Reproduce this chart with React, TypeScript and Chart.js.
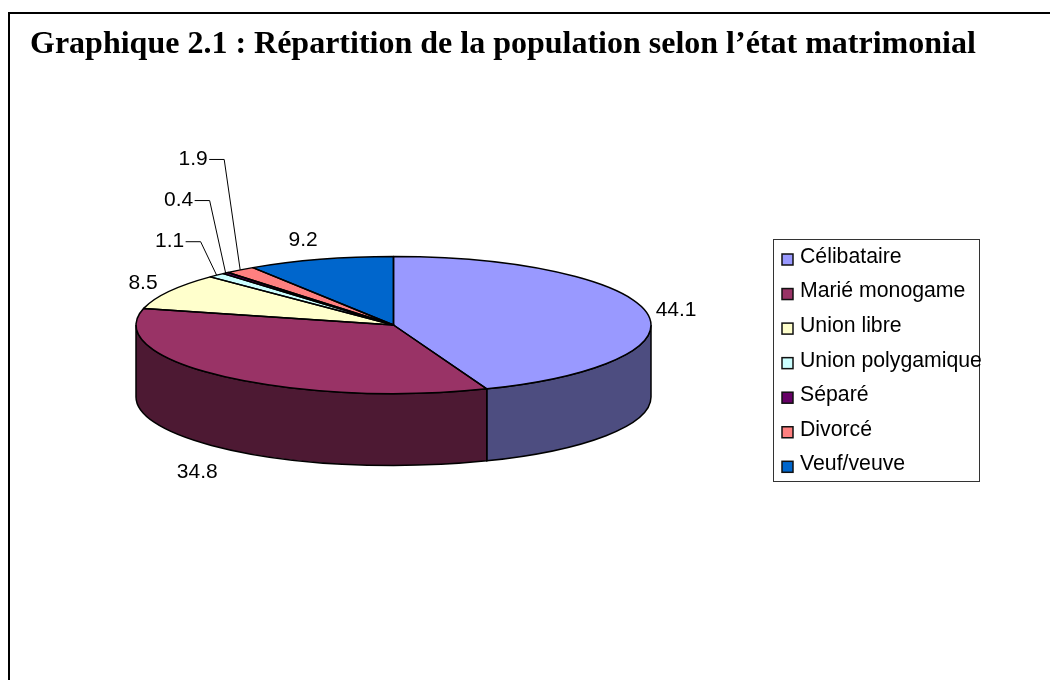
import React, { useEffect, useRef } from "react";
import { Chart, registerables } from "chart.js";

Chart.register(...registerables);

const chartTitle = "Graphique 2.1 : Répartition de la population selon l’état matrimonial";
const categories = ["Célibataire", "Marié monogame", "Union libre", "Union polygamique", "Séparé", "Divorcé", "Veuf/veuve"];
const shares = [44.1, 34.8, 8.5, 1.1, 0.4, 1.9, 9.2];
const topColors = ["#9999FF", "#993366", "#FFFFCC", "#CCFFFF", "#660066", "#FF8080", "#0066CC"];
const sideColors = ["#4D4D80", "#4D1933", "#808066", "#668080", "#330033", "#804040", "#003366"];
// label-centre offset from each slice's rim mid-point
const labelDx = [29.5, -26, -26, -47, -47, -47, -17];
const labelDy = [-2, 96, -8.5, -34, -73, -111, -19];
const leaderLimit = 2;

const tilt = 68.5 / 257.5;
const depth = 72;
const labelFont = '21px "Liberation Sans", Arial, sans-serif';
const legendFont = '21.25px "Liberation Sans", Arial, sans-serif';

const pie3d = {
  id: "pie3d",
  beforeDatasetsDraw(chart: any) {
    const ctx = chart.ctx;
    const arcs = chart.getDatasetMeta(0).data;
    const { x: cx, y: cy, outerRadius: r } = arcs[0];
    const ry = r * tilt;
    arcs.forEach((arc: any, i: number) => {
      const a = Math.max(arc.startAngle, 0);
      const b = Math.min(arc.endAngle, Math.PI);
      if (b <= a) return;
      ctx.save();
      ctx.beginPath();
      ctx.ellipse(cx, cy, r, ry, 0, a, b);
      ctx.ellipse(cx, cy + depth, r, ry, 0, b, a, true);
      ctx.closePath();
      ctx.fillStyle = sideColors[i];
      ctx.fill();
      ctx.lineWidth = 1.5;
      ctx.strokeStyle = "#000";
      ctx.stroke();
      ctx.restore();
    });
    ctx.save();
    ctx.translate(cx, cy);
    ctx.scale(1, tilt);
    ctx.translate(-cx, -cy);
  },
  afterDatasetsDraw(chart: any) {
    const ctx = chart.ctx;
    ctx.restore();
    const arcs = chart.getDatasetMeta(0).data;
    const { x: cx, y: cy, outerRadius: r } = arcs[0];
    const ry = r * tilt;
    ctx.save();
    ctx.strokeStyle = "#000";
    ctx.lineWidth = 1.5;
    ctx.lineJoin = "round";
    arcs.forEach((arc: any) => {
      ctx.beginPath();
      ctx.moveTo(cx, cy);
      ctx.ellipse(cx, cy, r, ry, 0, arc.startAngle, arc.endAngle);
      ctx.closePath();
      ctx.stroke();
    });

    ctx.font = labelFont;
    ctx.textAlign = "center";
    ctx.textBaseline = "middle";
    ctx.fillStyle = "#000";
    arcs.forEach((arc: any, i: number) => {
      const mid = (arc.startAngle + arc.endAngle) / 2;
      const ax = cx + r * Math.cos(mid);
      const ay = cy + ry * Math.sin(mid);
      const tx = ax + labelDx[i];
      const ty = ay + labelDy[i];
      ctx.fillText(shares[i].toFixed(1), tx, ty);
      if (shares[i] < leaderLimit) {
        ctx.beginPath();
        ctx.lineWidth = 1;
        ctx.moveTo(tx + 16, ty + 0.5);
        ctx.lineTo(tx + 31, ty + 0.5);
        ctx.lineTo(ax, ay);
        ctx.stroke();
      }
    });
    ctx.restore();
  },
  afterDraw(chart: any) {
    const ctx = chart.ctx;
    ctx.save();
    // page frame: top and left rules only
    ctx.strokeStyle = "#000";
    ctx.lineWidth = 2;
    ctx.beginPath();
    ctx.moveTo(9, 680);
    ctx.lineTo(9, 13);
    ctx.lineTo(1050, 13);
    ctx.stroke();

    ctx.fillStyle = "#000";
    ctx.font = 'bold 32px "Liberation Serif", "Times New Roman", serif';
    ctx.textAlign = "left";
    ctx.textBaseline = "alphabetic";
    ctx.fillText(chartTitle, 30, 53);

    // legend
    ctx.lineWidth = 1;
    ctx.strokeStyle = "#333";
    ctx.strokeRect(773.5, 239.5, 206, 242);
    ctx.font = legendFont;
    ctx.textBaseline = "middle";
    categories.forEach((name, i) => {
      const y = 259 + i * 34.55;
      ctx.fillStyle = topColors[i];
      ctx.fillRect(782, y - 5, 11, 11);
      ctx.lineWidth = 1.5;
      ctx.strokeStyle = "#111";
      ctx.strokeRect(782, y - 5, 11, 11);
      ctx.fillStyle = "#000";
      ctx.fillText(name, 800, y - 2);
    });
    ctx.restore();
  },
};

export default function App() {
  const ref = useRef<HTMLCanvasElement>(null);
  useEffect(() => {
    const chart = new Chart(ref.current as HTMLCanvasElement, {
      type: "pie",
      data: {
        labels: categories,
        datasets: [{ data: shares, backgroundColor: topColors, borderWidth: 0, clip: false } as any],
      },
      options: {
        responsive: false,
        animation: false,
        layout: { padding: { left: 136, right: 399, top: 67.5, bottom: 97.5 } },
        plugins: { legend: { display: false }, title: { display: false }, tooltip: { enabled: false } },
      },
      plugins: [pie3d],
    });
    return () => chart.destroy();
  }, []);
  return (
    <canvas
      ref={ref}
      width={1050}
      height={680}
      style={{ position: "absolute", left: 0, top: 0, display: "block", background: "#fff" }}
    />
  );
}
